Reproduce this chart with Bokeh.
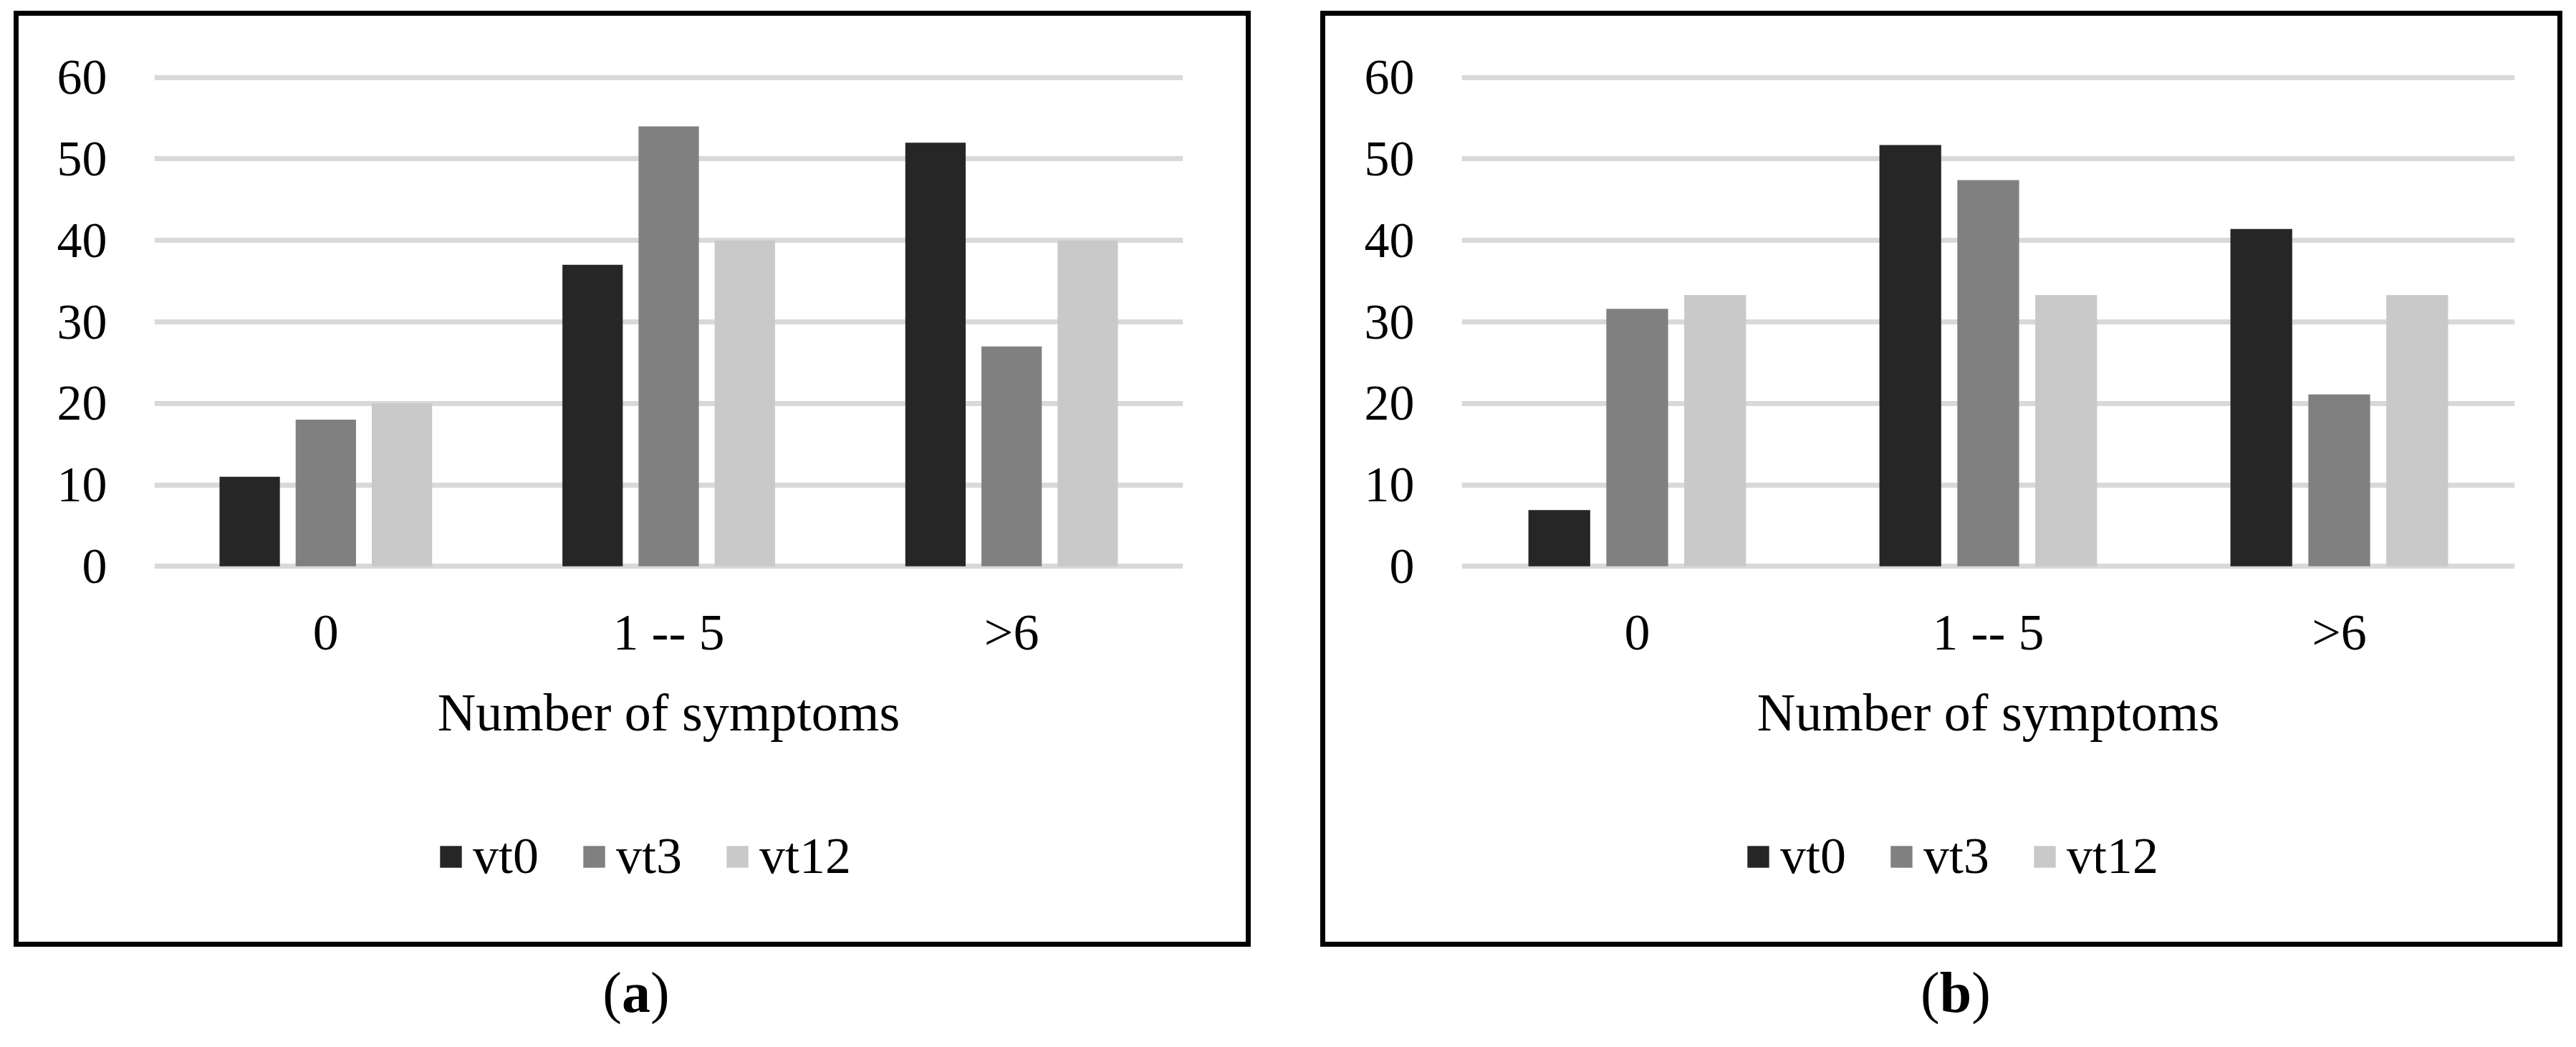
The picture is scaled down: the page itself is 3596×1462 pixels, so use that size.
from bokeh.plotting import figure
from bokeh.models import Legend, LegendItem, ColumnDataSource, FactorRange, Div, FixedTicker, Spacer
from bokeh.transform import dodge
from bokeh.layouts import row, column
from bokeh.embed import file_html
from bokeh.resources import INLINE

categories = ["0", "1 -- 5", ">6"]
series = ["vt0", "vt3", "vt12"]
colors = ["#262626", "#808080", "#c9c9c9"]
a_vt0 = [11, 37, 52]
a_vt3 = [18, 54, 27]
a_vt12 = [20, 40, 40]
b_vt0 = [6.9, 51.7, 41.4]
b_vt3 = [31.6, 47.4, 21.1]
b_vt12 = [33.3, 33.3, 33.3]
y_ticks = [0, 10, 20, 30, 40, 50, 60]
x_title = "Number of symptoms"

FONT = "Liberation Serif"
MAIN_H = 1083
LEG_H = 210


def make_panel(vals, width, min_left, min_right, legend_x):
    src = ColumnDataSource(dict(cat=categories, vt0=vals[0], vt3=vals[1], vt12=vals[2]))
    p = figure(x_range=FactorRange(*categories), y_range=(-0.5, 60.5),
               width=width, height=MAIN_H, output_backend="svg", toolbar_location=None,
               min_border_left=min_left, min_border_right=min_right,
               min_border_top=80, min_border_bottom=MAIN_H - 80 - 694)
    p.outline_line_color = None
    offsets = [-0.222, 0.0, 0.222]
    for s, c, off in zip(series, colors, offsets):
        p.vbar(x=dodge("cat", off, range=p.x_range), top=s, width=0.176, source=src,
               fill_color=c, line_color=None)
    p.xgrid.visible = False
    p.ygrid.grid_line_color = "#d9d9d9"
    p.ygrid.grid_line_width = 7
    p.yaxis.ticker = FixedTicker(ticks=y_ticks)
    for ax in (p.xaxis[0], p.yaxis[0]):
        ax.axis_line_color = None
        ax.major_tick_line_color = None
        ax.minor_tick_line_color = None
        ax.major_tick_out = 0
        ax.major_tick_in = 0
        ax.major_label_text_font = FONT
        ax.major_label_text_font_size = "70px"
        ax.major_label_text_color = "black"
    p.xaxis.major_label_text_font_size = "72px"
    p.yaxis.major_label_standoff = 66
    p.xaxis.major_label_standoff = 46
    p.xaxis.axis_label = x_title
    p.xaxis.axis_label_text_font = FONT
    p.xaxis.axis_label_text_font_size = "74px"
    p.xaxis.axis_label_text_font_style = "normal"
    p.xaxis.axis_label_text_color = "black"
    p.xaxis.axis_label_standoff = 28

    # legend strip (inside the same outlined box); its bar renderers are hidden
    q = figure(width=width, height=LEG_H, output_backend="svg", toolbar_location=None,
               x_axis_location=None, y_axis_location=None, min_border=0,
               x_range=FactorRange(*categories), y_range=(-1000, -999))
    q.outline_line_color = None
    q.grid.visible = False
    items = []
    for s, c, off in zip(series, colors, offsets):
        r = q.vbar(x=dodge("cat", off, range=q.x_range), top=s, width=0.176, source=src,
                   fill_color=c, line_color=None)
        r.visible = False
        items.append(LegendItem(label=s, renderers=[r]))
    leg = Legend(items=items, orientation="horizontal", location=(legend_x, 78),
                 padding=0, margin=0, spacing=58, glyph_width=38, glyph_height=38,
                 label_standoff=12, label_height=80, label_text_font=FONT,
                 label_text_font_size="72px", label_text_color="black",
                 inactive_fill_alpha=0,
                 border_line_color=None, background_fill_alpha=0)
    q.add_layout(leg, "center")
    box = column(p, q, styles={"outline": "7px solid black", "outline-offset": "0px"})
    return box


box_a = make_panel([a_vt0, a_vt3, a_vt12], 1713, 189, 88, 395)
box_b = make_panel([b_vt0, b_vt3, b_vt12], 1720, 190, 60, 395)

div_style = {"font-family": FONT, "font-size": "80px", "text-align": "center",
             "line-height": "1", "color": "black"}
d1 = Div(text="(<b>a</b>)", width=1714, height=90, styles=div_style)
d2 = Div(text="(<b>b</b>)", width=1750, height=90, styles=div_style)

col_a = column(box_a, Spacer(height=26), d1)
col_b = column(box_b, Spacer(height=26), d2)
root = column(Spacer(height=22), row(Spacer(width=26), col_a, Spacer(width=100), col_b))

open("out.html", "w").write(file_html(root, INLINE))
